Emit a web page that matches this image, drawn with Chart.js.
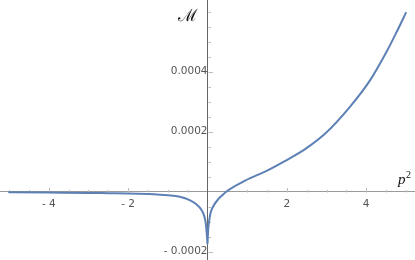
<!DOCTYPE html>
<html>
<head>
<meta charset="utf-8">
<script src="https://cdn.jsdelivr.net/npm/chart.js@4"></script>
<style>
  html, body { margin: 0; padding: 0; background: #fff; }
  #wrap { width: 415px; height: 260px; }
</style>
</head>
<body>
<div id="wrap"><canvas id="ampChart"></canvas></div>
<script>
// values (p^2 against M)
const pSquared = [-5, -4, -3, -2.5, -2, -1.5, -1.2, -1, -0.7, -0.45, -0.28, -0.15, -0.09, -0.05, -0.025, -0.01, -0.003, 0,
  0.003, 0.01, 0.02, 0.04, 0.075, 0.14, 0.27, 0.39, 0.47, 0.95, 1.45, 1.96, 2.46, 2.96, 3.59, 4.1, 4.52, 4.77, 5];
const amplitude = [-0.02e-4, -0.03e-4, -0.04e-4, -0.05e-4, -0.06e-4, -0.08e-4, -0.10e-4, -0.12e-4, -0.17e-4, -0.28e-4, -0.42e-4, -0.61e-4, -0.78e-4, -1.0e-4, -1.3e-4, -1.55e-4, -1.68e-4, -1.74e-4,
  -1.66e-4, -1.45e-4, -1.22e-4, -1.0e-4, -0.72e-4, -0.5e-4, -0.25e-4, -0.1e-4, 0, 0.37e-4, 0.67e-4, 1.03e-4, 1.42e-4, 1.93e-4, 2.83e-4, 3.72e-4, 4.68e-4, 5.33e-4, 5.96e-4];

// tick labels and tick marks
const xTicks = [-4, -2, 2, 4];
const yTicks = [-0.0002, 0.0002, 0.0004];
const xMinorTicks = [-5, -4.5, -4, -3.5, -3, -2.5, -2, -1.5, -1, -0.5, 0.5, 1, 1.5, 2, 2.5, 3, 3.5, 4, 4.5, 5];
const yMinorTicks = [-0.0002, -0.00015, -0.0001, -0.00005, 0.00005, 0.0001, 0.00015, 0.0002, 0.00025, 0.0003,
  0.00035, 0.0004, 0.00045, 0.0005, 0.00055, 0.0006];

const lineColor = '#5e81b5';

function fmt(v, digits) {
  let s = Math.abs(v).toFixed(digits);
  return v < 0 ? '- ' + s : s;
}

// short tick marks and the axis names, drawn in the Mathematica way
const axisDecor = {
  id: 'axisDecor',
  beforeDatasetsDraw(chart) {
    const ctx = chart.ctx;
    const xs = chart.scales.x;
    const ys = chart.scales.y;
    const x0 = Math.round(xs.getPixelForValue(0)) + 0.5;
    const y0 = Math.round(ys.getPixelForValue(0)) + 0.5;
    ctx.save();
    ctx.strokeStyle = '#bdbdbd';
    ctx.lineWidth = 1;
    ctx.beginPath();
    xMinorTicks.forEach(v => {
      let px = Math.round(xs.getPixelForValue(v)) + 0.5;
      let len = xTicks.includes(v) ? 4.5 : 2.5;
      ctx.moveTo(px, y0);
      ctx.lineTo(px, y0 - len);
    });
    yMinorTicks.forEach(v => {
      let py = Math.round(ys.getPixelForValue(v)) + 0.5;
      let len = yTicks.includes(v) ? 4.5 : 2.5;
      ctx.moveTo(x0, py);
      ctx.lineTo(x0 + len, py);
    });
    ctx.stroke();
    ctx.restore();
  },
  afterDraw(chart) {
    const ctx = chart.ctx;
    const xs = chart.scales.x;
    const ys = chart.scales.y;
    const x0 = xs.getPixelForValue(0);
    const y0 = ys.getPixelForValue(0);
    ctx.save();
    ctx.fillStyle = '#111';
    ctx.textBaseline = 'alphabetic';
    ctx.textAlign = 'right';
    ctx.font = '17px "DejaVu Serif"';
    ctx.fillText('\u2133', x0 - 10, 21);
    ctx.textAlign = 'left';
    ctx.font = 'italic 15px "Liberation Serif"';
    ctx.fillText('p', xs.right - 17, y0 - 8);
    ctx.font = '10px "Liberation Serif"';
    ctx.fillText('2', xs.right - 9, y0 - 14);
    ctx.restore();
  }
};

function noRoomX(s) {
  s.height = 0;
  s.paddingLeft = 0;
  s.paddingRight = 0;
  s.paddingTop = 0;
  s.paddingBottom = 0;
}

function noRoomY(s) {
  s.width = 0;
  s.paddingLeft = 0;
  s.paddingRight = 0;
  s.paddingTop = 0;
  s.paddingBottom = 0;
}

const ctx = document.getElementById('ampChart').getContext('2d');
const chart = new Chart(ctx, {
  type: 'line',
  data: {
    datasets: [{
      data: pSquared.map((p, i) => ({ x: p, y: amplitude[i] })),
      borderColor: lineColor,
      borderWidth: 2,
      pointRadius: 0,
      cubicInterpolationMode: 'monotone',
      borderJoinStyle: 'round',
      borderCapStyle: 'round',
      fill: false
    }]
  },
  options: {
    responsive: true,
    maintainAspectRatio: false,
    animation: false,
    layout: { padding: 0 },
    plugins: {
      legend: { display: false },
      tooltip: { enabled: false }
    },
    scales: {
      x: {
        type: 'linear',
        position: { y: 0 },
        min: -5.23,
        max: 5.23,
        afterBuildTicks: s => { s.ticks = xTicks.map(v => ({ value: v })); },
        afterFit: noRoomX,
        grid: { display: false, drawTicks: false },
        border: { display: true, color: '#9a9a9a', width: 1 },
        ticks: {
          padding: 6,
          color: '#555',
          font: { family: 'DejaVu Sans', size: 10.5 },
          maxRotation: 0,
          callback: v => fmt(v, 0)
        }
      },
      y: {
        type: 'linear',
        position: { x: 0 },
        min: -0.0002277,
        max: 0.000639,
        afterBuildTicks: s => { s.ticks = yTicks.map(v => ({ value: v })); },
        afterFit: noRoomY,
        grid: { display: false, drawTicks: false },
        border: { display: true, color: '#666', width: 1 },
        ticks: {
          padding: 4,
          color: '#555',
          font: { family: 'DejaVu Sans', size: 10.5 },
          callback: v => fmt(v, 4)
        }
      }
    }
  },
  plugins: [axisDecor]
});
</script>
</body>
</html>
